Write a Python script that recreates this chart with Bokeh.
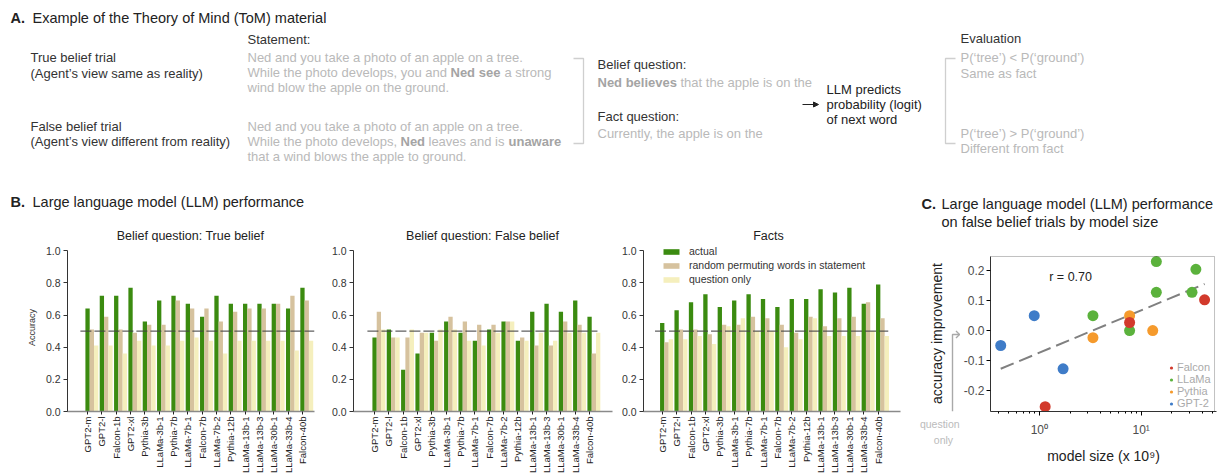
import numpy as np
from bokeh.plotting import figure
from bokeh.layouts import column, row
from bokeh.models import (Range1d, Legend, LegendItem, Label, Arrow, NormalHead, BoxAnnotation,
                          LinearAxis, FixedTicker, PrintfTickFormatter, LogTicker)
from bokeh.core.properties import value
from bokeh.embed import file_html
from bokeh.resources import INLINE

FONT = "Liberation Sans"

# ---------------- data ----------------
models = ["GPT2-m", "GPT2-l", "Falcon-1b", "GPT2-xl", "Pythia-3b", "LLaMa-3b-1",
          "Pythia-7b", "LLaMa-7b-1", "Falcon-7b", "LLaMa-7b-2", "Pythia-12b",
          "LLaMa-13b-1", "LLaMa-13b-3", "LLaMa-30b-1", "LLaMa-33b-4", "Falcon-40b"]

tb_actual = [0.64, 0.72, 0.72, 0.77, 0.56, 0.69, 0.72, 0.67, 0.59, 0.72, 0.67, 0.67, 0.67, 0.67, 0.64, 0.77]
tb_permuted = [0.51, 0.59, 0.51, 0.49, 0.54, 0.54, 0.69, 0.64, 0.64, 0.56, 0.62, 0.64, 0.64, 0.67, 0.72, 0.69]
tb_question_only = [0.41, 0.41, 0.36, 0.44, 0.41, 0.41, 0.44, 0.46, 0.44, 0.36, 0.44, 0.44, 0.44, 0.44, 0.38, 0.44]

fb_actual = [0.46, 0.51, 0.26, 0.36, 0.49, 0.56, 0.49, 0.44, 0.51, 0.56, 0.44, 0.62, 0.67, 0.62, 0.69, 0.59]
fb_permuted = [0.62, 0.46, 0.46, 0.49, 0.44, 0.59, 0.56, 0.54, 0.54, 0.56, 0.46, 0.41, 0.41, 0.56, 0.54, 0.36]
fb_question_only = [0.51, 0.46, 0.51, 0.49, 0.51, 0.51, 0.44, 0.41, 0.49, 0.56, 0.44, 0.49, 0.44, 0.49, 0.49, 0.49]

fact_actual = [0.55, 0.63, 0.68, 0.73, 0.65, 0.69, 0.73, 0.70, 0.65, 0.70, 0.70, 0.76, 0.74, 0.77, 0.67, 0.79]
fact_permuted = [0.43, 0.51, 0.51, 0.48, 0.54, 0.54, 0.59, 0.58, 0.54, 0.49, 0.59, 0.53, 0.58, 0.59, 0.68, 0.58]
fact_question_only = [0.45, 0.45, 0.47, 0.42, 0.53, 0.58, 0.50, 0.50, 0.40, 0.45, 0.58, 0.47, 0.47, 0.47, 0.50, 0.47]

chance_level = 0.5
accuracy_ticks = [0.0, 0.2, 0.4, 0.6, 0.8, 1.0]

legend_labels = ["actual", "random permuting words in statement", "question only"]

# model size (x 1e9) vs accuracy improvement on false belief trials
falcon_size = [1.14, 7.7, 42.0]
falcon_gain = [-0.255, 0.027, 0.103]
llama_size = [3.36, 7.7, 14.1, 14.1, 31.6, 34.5]
llama_gain = [0.05, 0.0, 0.231, 0.128, 0.128, 0.205]
pythia_size = [3.36, 7.7, 13.0]
pythia_gain = [-0.024, 0.05, 0.0]
gpt2_size = [0.417, 0.89, 1.71]
gpt2_gain = [-0.05, 0.05, -0.128]
fit_size = [0.417, 42.0]
fit_gain = [-0.128, 0.156]
gain_ticks = [-0.2, -0.1, 0.0, 0.1, 0.2]
size_lim = (0.331, 52.6)
gain_lim = (-0.271, 0.248)
r_text = "r = 0.70"

GREEN = "#3b8b10"
TAN = "#d6c29e"
YELLOW = "#f5efbd"
DARK = "#333333"
GRAY = "#b9b9b9"
GRAYB = "#a4a4a4"

# ---------------- top panel (text) ----------------
TOP_H = 242
top = figure(width=1221, height=TOP_H, x_range=Range1d(0, 1221), y_range=Range1d(TOP_H, 0),
             output_backend="svg", toolbar_location=None, min_border=0,
             x_axis_location=None, y_axis_location=None)
top.grid.visible = False
top.outline_line_color = None


def put(fig, x, y, s, size="13px", color=DARK, style="normal", align="left", angle=0.0):
    fig.text(x=[x], y=[y], text=[s], text_font=value(FONT), text_font_size=size, angle=angle,
             text_color=color, text_font_style=style, text_align=align, text_baseline="middle")


put(top, 10, 17, "A.", "14.5px", "#222", "bold")
put(top, 32, 17, "Example of the Theory of Mind (ToM) material", "14.5px", "#222")
put(top, 247, 39, "Statement:")
put(top, 30, 57, "True belief trial")
put(top, 30, 73, "(Agent\u2019s view same as reality)")
put(top, 30, 126, "False belief trial")
put(top, 30, 141, "(Agent\u2019s view different from reality)")

put(top, 247, 57, "Ned and you take a photo of an apple on a tree.", color=GRAY)
put(top, 247, 72, "While the photo develops, you and", color=GRAY)
put(top, 450, 72, "Ned see", color=GRAYB, style="bold")
put(top, 504, 72, "a strong", color=GRAY)
put(top, 247, 87, "wind blow the apple on the ground.", color=GRAY)

put(top, 247, 126, "Ned and you take a photo of an apple on a tree.", color=GRAY)
put(top, 247, 141, "While the photo develops,", color=GRAY)
put(top, 400, 141, "Ned", color=GRAYB, style="bold")
put(top, 428, 141, "leaves and is", color=GRAY)
put(top, 508, 141, "unaware", color=GRAYB, style="bold")
put(top, 247, 156, "that a wind blows the apple to ground.", color=GRAY)

top.line(x=[573, 583, 583, 573], y=[58, 58, 143, 143], line_color="#cfcfcf", line_width=1.3)

put(top, 597, 64, "Belief question:")
put(top, 597, 82, "Ned believes", color=GRAYB, style="bold")
put(top, 680, 82, "that the apple is on the", color=GRAY)
put(top, 597, 116, "Fact question:")
put(top, 597, 133, "Currently, the apple is on the", color=GRAY)

top.add_layout(Arrow(x_start=802, y_start=104, x_end=818, y_end=104, line_color="#222", line_width=1,
                     end=NormalHead(size=5, fill_color="#222", line_color="#222")))
put(top, 826, 89, "LLM predicts", color="#222")
put(top, 826, 104, "probability (logit)", color="#222")
put(top, 826, 119, "of next word", color="#222")

put(top, 960, 38, "Evaluation")
top.line(x=[955, 945, 945, 955], y=[58, 58, 143, 143], line_color="#cfcfcf", line_width=1.3)
put(top, 960, 57, "P(\u2018tree\u2019) < P(\u2018ground\u2019)", color=GRAY)
put(top, 960, 73, "Same as fact", color=GRAY)
put(top, 960, 133, "P(\u2018tree\u2019) > P(\u2018ground\u2019)", color=GRAY)
put(top, 960, 148, "Different from fact", color=GRAY)

put(top, 10, 201, "B.", "14.5px", "#222", "bold")
put(top, 32, 201, "Large language model (LLM) performance", "14.5px", "#222")
put(top, 921, 203, "C.", "14.5px", "#222", "bold")
put(top, 941, 203, "Large language model (LLM) performance", "14.5px", "#222")
put(top, 941, 221, "on false belief trials by model size", "14.5px", "#222")

put(top, 190, 235, "Belief question: True belief", "12.5px", "#222", align="center")
put(top, 482, 235, "Belief question: False belief", "12.5px", "#222", align="center")
put(top, 768, 235, "Facts", "12.5px", "#222", align="center")

# ---------------- bottom row: all frames share top (243) and bottom (~411) ----------------
BOT_H = 476 - TOP_H
idx = np.arange(len(models))
Y_TOP = 1.045


def bar_panel(actual, permuted, qonly, width, bl, br, x0, x1, dash_end, ylabel=None, legend=False):
    p = figure(width=width, height=BOT_H, x_range=Range1d(x0, x1), y_range=Range1d(0, Y_TOP),
               output_backend="svg", toolbar_location=None, min_border_left=bl, min_border_right=br,
               min_border_top=1, min_border_bottom=0)
    p.grid.visible = False
    p.outline_line_color = None
    r1 = p.vbar(x=idx, top=actual, width=0.3, fill_color=GREEN, line_color=None)
    r2 = p.vbar(x=idx + 0.3, top=permuted, width=0.3, fill_color=TAN, line_color=None)
    r3 = p.vbar(x=idx + 0.6, top=qonly, width=0.3, fill_color=YELLOW, line_color=None)
    p.line(x=[-0.5, dash_end], y=[chance_level, chance_level], line_color="#444444",
           line_alpha=0.85, line_width=1.3, line_dash="11 3")
    xa = p.xaxis[0]
    xa.ticker = FixedTicker(ticks=list(idx))
    xa.major_label_overrides = {int(i): m for i, m in zip(idx, models)}
    xa.major_label_orientation = np.pi / 2
    xa.major_label_text_font = FONT
    xa.major_label_text_font_size = "9.5px"
    xa.major_label_text_color = "#222"
    xa.major_label_standoff = 2
    xa.major_tick_out = 3
    xa.major_tick_in = 0
    xa.major_tick_line_color = "#222"
    xa.minor_tick_line_color = None
    xa.axis_line_color = "#8a8a8a"
    xa.axis_line_width = 1.6
    ya = p.yaxis[0]
    ya.bounds = (0, 1.0)
    ya.ticker = FixedTicker(ticks=accuracy_ticks)
    ya.formatter = PrintfTickFormatter(format="%.1f")
    ya.major_label_text_font = FONT
    ya.major_label_text_font_size = "10.5px"
    ya.major_label_text_color = "#333"
    ya.major_label_standoff = 3
    ya.major_tick_out = 4
    ya.major_tick_in = 0
    ya.minor_tick_line_color = None
    ya.axis_line_color = "#333"
    ya.major_tick_line_color = "#333"
    if ylabel:
        ya.axis_label = ylabel
        ya.axis_label_text_font = FONT
        ya.axis_label_text_font_size = "9px"
        ya.axis_label_text_font_style = "normal"
        ya.axis_label_text_color = "#333"
        ya.axis_label_standoff = 6
    if legend:
        lg = Legend(items=[LegendItem(label=legend_labels[0], renderers=[r1]),
                           LegendItem(label=legend_labels[1], renderers=[r2]),
                           LegendItem(label=legend_labels[2], renderers=[r3])],
                    location=(18, 125), margin=0, padding=0, spacing=0,
                    glyph_width=20, glyph_height=7, label_height=14, label_standoff=8,
                    label_text_font=FONT, label_text_font_size="10.5px", label_text_color="#333",
                    background_fill_alpha=0, border_line_color=None)
        p.add_layout(lg)
    return p


f1 = bar_panel(tb_actual, tb_permuted, tb_question_only, 325, 67, 11, -1.40, 15.84, 15.84, ylabel="Accuracy")
f2 = bar_panel(fb_actual, fb_permuted, fb_question_only, 292, 28, 5, -1.47, 16.6, 15.55)
f3 = bar_panel(fact_actual, fact_permuted, fact_question_only, 288, 26, 5, -1.30, 16.55, 15.7, legend=True)

# ---------------- panel C helper strip (axis title + "question only" marker) ----------------
HP_W = 55
hp = figure(width=HP_W, height=BOT_H, x_range=Range1d(0, HP_W), y_range=Range1d(411, 243),
            output_backend="svg", toolbar_location=None, min_border_left=0, min_border_right=0,
            min_border_top=1, min_border_bottom=0, x_axis_location=None, y_axis_location=None)
hp.grid.visible = False
hp.outline_line_color = None
put(hp, 31, 333, "accuracy improvement", "14px", "#222", align="center", angle=np.pi / 2)
hp.line(x=[47, 47, 54], y=[411, 334, 334], line_color="#a9a9a9", line_width=1.4)
hp.line(x=[50.5, 54, 50.5], y=[330.5, 334, 337.5], line_color="#a9a9a9", line_width=1.4)
for word, xpos, standoff in (("question", 36, 6), ("only", 38, 1)):
    ax = LinearAxis(ticker=FixedTicker(ticks=[xpos]), major_label_overrides={xpos: word},
                    axis_line_color=None, major_tick_line_color=None, minor_tick_line_color=None,
                    major_tick_out=0, major_tick_in=0, minor_tick_out=0, minor_tick_in=0,
                    major_label_standoff=standoff, major_label_text_font=FONT,
                    major_label_text_font_size="10.5px", major_label_text_color="#bbbbbb")
    hp.add_layout(ax, "below")

# ---------------- scatter panel ----------------
sc = figure(width=1221 - 325 - 292 - 288 - HP_W, height=BOT_H, x_axis_type="log",
            x_range=Range1d(size_lim[0], 55.0), y_range=Range1d(gain_lim[0], 0.2915),
            output_backend="svg", toolbar_location=None,
            min_border_left=28, min_border_right=5, min_border_top=1, min_border_bottom=0)
sc.grid.visible = False
sc.outline_line_color = None
sc.add_layout(BoxAnnotation(left=size_lim[0], right=size_lim[1], bottom=gain_lim[0], top=gain_lim[1],
                            fill_alpha=0, line_color="#333", line_width=1))
sc.line(x=fit_size, y=fit_gain, line_color="#808080", line_width=2, line_dash="14 6")
rg = sc.scatter(x=gpt2_size, y=gpt2_gain, size=11, fill_color="#3f7cc8", line_color=None)
rp = sc.scatter(x=pythia_size, y=pythia_gain, size=11, fill_color="#f59a2c", line_color=None)
rl = sc.scatter(x=llama_size, y=llama_gain, size=11, fill_color="#5bb23c", line_color=None)
rf = sc.scatter(x=falcon_size, y=falcon_gain, size=11, fill_color="#d23a2c", line_color=None)
sc.add_layout(Label(x=1.25, y=0.178, text=r_text, text_font=FONT, text_font_size="12.5px",
                    text_color="#222", text_baseline="middle"))
lg = Legend(items=[LegendItem(label="Falcon", renderers=[rf]), LegendItem(label="LLaMa", renderers=[rl]),
                   LegendItem(label="Pythia", renderers=[rp]), LegendItem(label="GPT-2", renderers=[rg])],
            location=(177, 2), margin=0, padding=0, spacing=0, glyph_width=8, glyph_height=11,
            label_height=11, label_standoff=2, label_text_font=FONT, label_text_font_size="11px",
            label_text_color="#aaaaaa", background_fill_alpha=0, border_line_color=None)
sc.add_layout(lg)

xa = sc.xaxis[0]
xa.ticker = LogTicker(num_minor_ticks=10)
xa.major_label_overrides = {1: "10\u2070", 10: "10\u00b9"}
xa.major_label_text_font = FONT
xa.major_label_text_font_size = "12px"
xa.major_label_text_color = "#4d4d4d"
xa.major_label_standoff = 7
xa.major_tick_out = 4
xa.major_tick_in = 0
xa.minor_tick_out = 2
xa.minor_tick_in = 0
xa.axis_line_color = "#333"
xa.axis_label = "model size (x 10\u2079)"
xa.axis_label_text_font = FONT
xa.axis_label_text_font_size = "14px"
xa.axis_label_text_font_style = "normal"
xa.axis_label_text_color = "#222"
xa.axis_label_standoff = 8

ya = sc.yaxis[0]
ya.bounds = gain_lim
ya.ticker = FixedTicker(ticks=gain_ticks)
ya.formatter = PrintfTickFormatter(format="%.1f")
ya.major_label_text_font = FONT
ya.major_label_text_font_size = "12px"
ya.major_label_text_color = "#4d4d4d"
ya.major_label_standoff = 2
ya.major_tick_out = 4
ya.major_tick_in = 0
ya.minor_tick_line_color = None
ya.axis_line_color = "#333"

layout = column(top, row(f1, f2, f3, hp, sc))
open("out.html", "w").write(file_html(layout, INLINE))
